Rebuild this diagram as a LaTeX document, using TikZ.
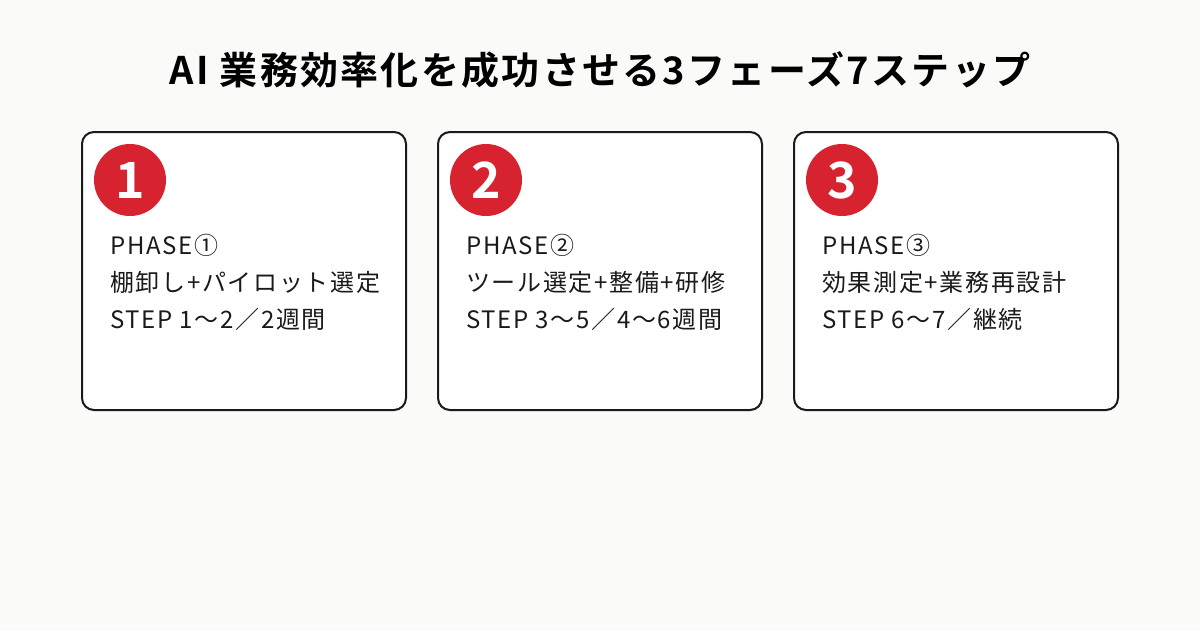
\documentclass[tikz,border=0pt]{standalone}
\usepackage{fontspec}
\setmainfont{Noto Sans CJK JP}[LetterSpace=7]
\newfontfamily\jpbold{Noto Sans CJK JP Bold}[LetterSpace=6]
\newfontfamily\numbold{Noto Sans CJK JP Bold}
\usetikzlibrary{positioning}
\definecolor{bgcol}{HTML}{FAFAF8}
\definecolor{redcol}{HTML}{D7232F}
\definecolor{linecol}{HTML}{1A1A1A}
\tikzset{
  card/.style={draw=linecol,line width=2pt,rounded corners=12pt,fill=white,minimum width=324pt,minimum height=278pt,anchor=north west,inner sep=0pt},
  badge/.style={circle,fill=redcol,minimum size=72pt,inner sep=0pt,text=white,font=\numbold\fontsize{50}{50}\selectfont},
  body/.style={anchor=north west,align=left,inner sep=0pt,font=\fontsize{24}{37}\selectfont,text=linecol}
}
\begin{document}
\begin{tikzpicture}[x=1pt,y=-1pt]
  \fill[bgcol] (0,0) rectangle (1200,630);
  \useasboundingbox (0,0) rectangle (1200,630);
  \node[font=\jpbold\fontsize{38}{38}\selectfont,text=black] (title) at (600,70) {AI 業務効率化を成功させる3フェーズ7ステップ};

  \node[card] (c1) at (81,131) {};
  \node[card] (c2) at (437,131) {};
  \node[card] (c3) at (793,131) {};

  \node[badge] (b1) at (130,180) {1};
  \node[badge] (b2) at (486,180) {2};
  \node[badge] (b3) at (842,180) {3};

  \node[body] (t1) at (110,234) {PHASE①\\棚卸し+パイロット選定\\STEP 1〜2／2週間};
  \node[body] (t2) at (466,234) {PHASE②\\ツール選定+整備+研修\\STEP 3〜5／4〜6週間};
  \node[body] (t3) at (822,234) {PHASE③\\効果測定+業務再設計\\STEP 6〜7／継続};
\end{tikzpicture}
\end{document}
